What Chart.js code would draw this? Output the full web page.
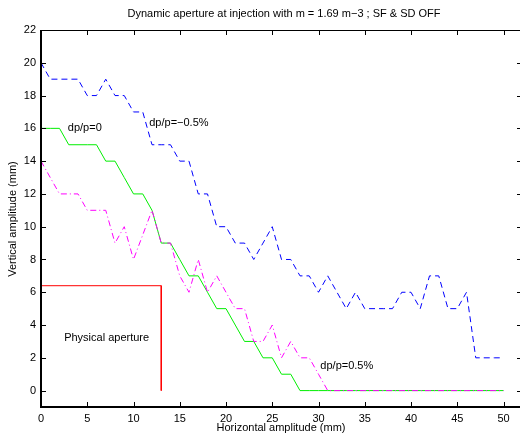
<!DOCTYPE html>
<html lang="en">
<head>
    <meta charset="UTF-8">
    <title>Dynamic aperture</title>
    <script src="https://cdn.jsdelivr.net/npm/chart.js"></script>
    <style>
        html, body { margin: 0; padding: 0; background: #fff; overflow: hidden; }
        #wrap { width: 530px; height: 434px; }
    </style>
</head>
<body>
    <div id="wrap"><canvas id="apChart" width="530" height="434"></canvas></div>

    <script>
        // horizontal amplitude (mm), one point per mm
        const hAmp = [0,1,2,3,4,5,6,7,8,9,10,11,12,13,14,15,16,17,18,19,20,21,22,23,24,25,
                      26,27,28,29,30,31,32,33,34,35,36,37,38,39,40,41,42,43,44,45,46,47,48,49,50];
        // vertical amplitude (mm) for each momentum offset
        const vMinus05 = [20,19,19,19,19,18,18,19,18,18,17,17,15,15,15,14,14,12,12,10,10,9,9,8,9,10,
                          8,8,7,7,6,7,6,5,6,5,5,5,5,6,6,5,7,7,5,5,6,2,2,2,2];
        const vZero = [16,16,16,15,15,15,15,14,14,13,12,12,11,9,9,8,7,7,6,5,5,4,3,3,2,2,
                       1,1,0,0,0,0,0,0,0,0,0,0,0,0,0,0,0,0,0,0,0,0,0,0,0];
        const vPlus05 = [14,13,12,12,12,11,11,11,9,10,8,9.5,11,9,9,7,6,8,6,7,6,5,5,3,3,4,
                         2,3,2,2,1,0,0,0,0,0,0,0,0,0,0,0,0,0,0,0,0,0,0,0,0];
        // physical aperture outline
        const physX = [0, 13, 13];
        const physY = [6.4, 6.4, 0];

        const xTicks = [0,5,10,15,20,25,30,35,40,45,50];
        const yTicks = [0,2,4,6,8,10,12,14,16,18,20,22];

        const labels = [
            { text: 'dp/p=0', x: 2.9, y: 16.0 },
            { text: 'dp/p=\u22120.5%', x: 11.7, y: 16.3 },
            { text: 'dp/p=0.5%', x: 30.2, y: 1.5 },
            { text: 'Physical aperture', x: 2.5, y: 3.2 }
        ];

        const FONT = '11px "Liberation Sans", Arial, sans-serif';

        function pts(xs, ys) {
            return xs.map((x, i) => ({ x: x, y: ys[i] }));
        }

        // matlab style box with inward ticks, title, axis labels and text notes
        const matlabAxes = {
            id: 'matlabAxes',
            afterDraw(chart) {
                const ctx = chart.ctx;
                const a = chart.chartArea;
                const xs = chart.scales.x, ys = chart.scales.y;
                ctx.save();
                ctx.strokeStyle = '#000';
                ctx.lineWidth = 1;
                ctx.beginPath();
                xTicks.forEach(v => {
                    const px = Math.round(xs.getPixelForValue(v)) + 0.5;
                    ctx.moveTo(px, a.bottom); ctx.lineTo(px, a.bottom - 5);
                    ctx.moveTo(px, a.top); ctx.lineTo(px, a.top + 5);
                });
                yTicks.forEach(v => {
                    const py = Math.round(ys.getPixelForValue(v)) + 0.5;
                    ctx.moveTo(a.left, py); ctx.lineTo(a.left + 5, py);
                    ctx.moveTo(a.right, py); ctx.lineTo(a.right - 5, py);
                });
                ctx.stroke();
                ctx.beginPath();
                ctx.moveTo(a.left, a.top + 0.5); ctx.lineTo(a.right, a.top + 0.5);
                ctx.moveTo(a.right - 0.5, a.top); ctx.lineTo(a.right - 0.5, a.bottom);
                ctx.stroke();
                ctx.lineWidth = 2;
                ctx.beginPath();
                ctx.moveTo(a.left, a.top); ctx.lineTo(a.left, a.bottom);
                ctx.lineTo(a.right, a.bottom);
                ctx.stroke();

                ctx.fillStyle = '#000';
                ctx.font = FONT;
                ctx.textBaseline = 'middle';
                ctx.textAlign = 'center';
                ctx.fillText('Dynamic aperture at injection with m = 1.69 m\u22123 ; SF & SD OFF', 284, 14);
                ctx.fillText('Horizontal amplitude (mm)', 281, 428);
                ctx.save();
                ctx.translate(13, 219);
                ctx.rotate(-Math.PI / 2);
                ctx.fillText('Vertical amplitude (mm)', 0, 0);
                ctx.restore();

                ctx.textAlign = 'left';
                labels.forEach(l => {
                    ctx.fillText(l.text, xs.getPixelForValue(l.x), ys.getPixelForValue(l.y));
                });
                ctx.restore();
            }
        };

        // chart.js paints the first dataset last, so magenta sits on top of green
        const ctx = document.getElementById('apChart').getContext('2d');
        const chart = new Chart(ctx, {
            type: 'scatter',
            data: {
                datasets: [
                    {
                        label: 'dp/p=0.5%',
                        data: pts(hAmp, vPlus05),
                        showLine: true,
                        borderColor: '#ff00ff',
                        borderWidth: 1,
                        borderDash: [6, 3, 1, 3],
                        pointRadius: 0,
                        tension: 0
                    },
                    {
                        label: 'dp/p=0',
                        data: pts(hAmp, vZero),
                        showLine: true,
                        borderColor: '#00ee00',
                        borderWidth: 1,
                        pointRadius: 0,
                        tension: 0
                    },
                    {
                        label: 'dp/p=-0.5%',
                        data: pts(hAmp, vMinus05),
                        showLine: true,
                        borderColor: '#0000ff',
                        borderWidth: 1,
                        borderDash: [6, 4],
                        pointRadius: 0,
                        tension: 0
                    },
                    {
                        label: 'Physical aperture',
                        data: pts(physX, physY),
                        showLine: true,
                        borderColor: '#ff0000',
                        borderWidth: 1,
                        pointRadius: 0,
                        tension: 0
                    }
                ]
            },
            options: {
                responsive: false,
                animation: false,
                maintainAspectRatio: false,
                layout: { padding: { left: 0, right: 8, top: 30, bottom: 0 } },
                plugins: {
                    legend: { display: false },
                    tooltip: { enabled: false }
                },
                scales: {
                    x: {
                        type: 'linear',
                        min: 0,
                        max: 52,
                        afterBuildTicks: s => { s.ticks = xTicks.map(v => ({ value: v })); },
                        afterFit: s => { s.height = 27; },
                        grid: { display: false, drawTicks: false },
                        border: { display: false },
                        ticks: {
                            color: '#000',
                            padding: 5,
                            maxRotation: 0,
                            autoSkip: false,
                            font: { family: '"Liberation Sans", Arial, sans-serif', size: 11 }
                        }
                    },
                    y: {
                        type: 'linear',
                        min: -1,
                        max: 22,
                        afterBuildTicks: s => { s.ticks = yTicks.map(v => ({ value: v })); },
                        afterFit: s => { s.width = 41; },
                        grid: { display: false, drawTicks: false },
                        border: { display: false },
                        ticks: {
                            color: '#000',
                            padding: 5,
                            autoSkip: false,
                            font: { family: '"Liberation Sans", Arial, sans-serif', size: 11 }
                        }
                    }
                }
            },
            plugins: [matlabAxes]
        });
    </script>
</body>
</html>
